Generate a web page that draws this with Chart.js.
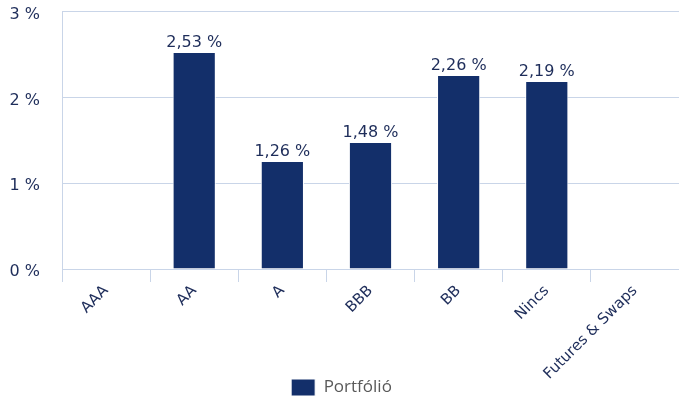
<!DOCTYPE html>
<html>
<head>
<meta charset="utf-8">
<script src="https://cdn.jsdelivr.net/npm/chart.js@4/dist/chart.umd.min.js"></script>
<style>
    html, body { margin: 0; padding: 0; background: #fff; }
    #wrap { width: 679px; height: 401px; }
</style>
</head>
<body>
<div id="wrap"><canvas id="ratingChart"></canvas></div>
<script>
const categories = ['AAA', 'AA', 'A', 'BBB', 'BB', 'Nincs', 'Futures & Swaps'];
const portfolioValues = [0, 2.53, 1.26, 1.48, 2.26, 2.19, 0];
const yTicks = [0, 1, 2, 3];

const navy = '#132f6a';
const textColor = '#1e2d5a';
const gridColor = '#c9d5e8';

const formatPct = (v, digits) => v.toFixed(digits).replace('.', ',') + ' %';

// Simple value labels above the bars
const barLabels = {
    id: 'barLabels',
    afterDatasetsDraw(chart) {
        const ctx = chart.ctx;
        const meta = chart.getDatasetMeta(0);
        ctx.save();
        ctx.font = '16px "DejaVu Sans"';
        ctx.fillStyle = textColor;
        ctx.textAlign = 'center';
        ctx.textBaseline = 'alphabetic';
        meta.data.forEach((bar, i) => {
            const v = portfolioValues[i];
            if (!v) return;
            ctx.fillText(formatPct(v, 2), bar.x, bar.y - 5);
        });
        ctx.restore();
    }
};

// Legend sits a bit higher, next to the long rotated label
const legendNudge = {
    id: 'legendNudge',
    afterLayout(chart) {
        if (chart.legend) {
            chart.legend.top -= 5;
            chart.legend.bottom -= 5;
        }
    }
};

new Chart(document.getElementById('ratingChart'), {
    type: 'bar',
    data: {
        labels: categories,
        datasets: [{
            label: 'Portfólió',
            data: portfolioValues,
            backgroundColor: navy,
            borderColor: '#ffffff',
            borderWidth: 1,
            categoryPercentage: 1,
            barPercentage: 0.49
        }]
    },
    options: {
        responsive: true,
        maintainAspectRatio: false,
        animation: false,
        layout: { padding: { top: 1, right: 0, left: 4, bottom: -10 } },
        plugins: {
            legend: {
                position: 'bottom',
                labels: {
                    boxWidth: 24,
                    boxHeight: 17,
                    padding: 0,
                    color: '#595959',
                    font: { family: '"Open Sans"', size: 17 }
                }
            },
            tooltip: { enabled: false }
        },
        scales: {
            x: {
                afterFit: (scale) => { scale.height = 115; },
                grid: {
                    offset: true,
                    drawOnChartArea: false,
                    drawTicks: true,
                    tickLength: 13,
                    color: gridColor
                },
                border: { color: gridColor },
                ticks: {
                    color: textColor,
                    font: { family: '"DejaVu Sans"', size: 15 },
                    minRotation: 45,
                    maxRotation: 45,
                    padding: 0
                }
            },
            y: {
                min: 0,
                max: 3,
                afterBuildTicks: (scale) => {
                    scale.ticks = yTicks.map(v => ({ value: v }));
                },
                afterFit: (scale) => { scale.width = 58; },
                grid: {
                    color: gridColor,
                    drawTicks: true,
                    tickLength: 20,
                    tickColor: 'rgba(0,0,0,0)'
                },
                border: { color: gridColor },
                ticks: {
                    color: textColor,
                    font: { family: '"DejaVu Sans"', size: 16 },
                    padding: 2,
                    labelOffset: 3,
                    callback: (value) => value + ' %'
                }
            }
        }
    },
    plugins: [barLabels, legendNudge]
});
</script>
</body>
</html>
